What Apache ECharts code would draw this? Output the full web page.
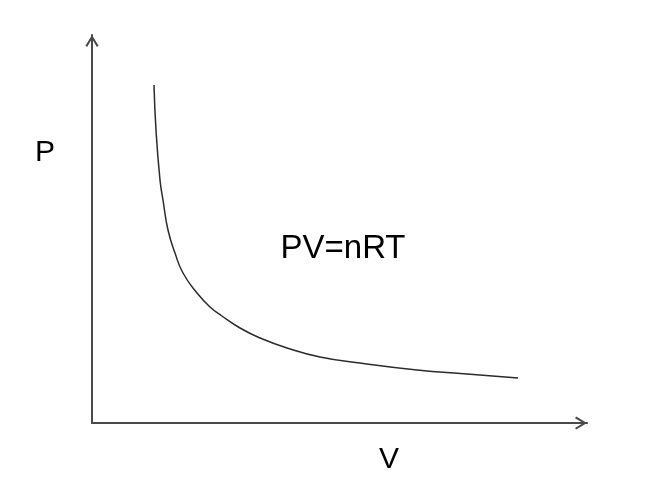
<!DOCTYPE html>
<html>
<head>
<meta charset="utf-8">
<script src="https://cdn.jsdelivr.net/npm/echarts@6/dist/echarts.min.js"></script>
<style>html,body{margin:0;padding:0;background:#fff;}#c{width:650px;height:490px;}</style>
</head>
<body>
<div id="c"></div>
<script>
// Curve points (V, P) in plot units
const volume = [62, 64, 68, 71, 76, 83, 91, 105, 118, 130, 148, 168, 195, 228, 268, 325, 375, 426];
const pressure = [338, 293, 243, 223, 193, 170, 150, 130, 116, 107, 95, 85, 75, 66, 60, 53, 49, 45];
const xLabel = 'V';
const yLabel = 'P';
const formula = 'PV=nRT';

const chart = echarts.init(document.getElementById('c'));
const arrowPath = 'path://M0,11.5 L7,0 L14,11.5 L12.2,12.8 L7,4 L1.8,12.8 Z';
const axisCommon = {
  axisTick: {show: false},
  axisLabel: {show: false},
  splitLine: {show: false},
  axisLine: {
    show: true,
    symbol: ['none', arrowPath],
    symbolSize: [14, 12],
    symbolOffset: [0, -6],
    lineStyle: {color: '#4a4a4a', width: 2}
  }
};
const txt = (s, x, y, size) => ({
  type: 'text', x: x, y: y,
  style: {text: s, font: size + 'px "Liberation Sans", Arial, sans-serif', fill: '#000', align: 'center', verticalAlign: 'middle'}
});
chart.setOption({
  animation: false,
  grid: {left: 92, right: 63, top: 35, bottom: 67},
  xAxis: Object.assign({type: 'value', min: 0, max: 495}, axisCommon),
  yAxis: Object.assign({type: 'value', min: 0, max: 388}, axisCommon),
  series: [{
    type: 'line',
    data: volume.map((v, i) => [v, pressure[i]]),
    smooth: 0.5,
    showSymbol: false,
    lineStyle: {color: '#2b2b2b', width: 1.5}
  }],
  graphic: [
    txt(yLabel, 45, 153, 30),
    txt(xLabel, 389, 460, 30),
    txt(formula, 343, 249, 33)
  ]
});
</script>
</body>
</html>
